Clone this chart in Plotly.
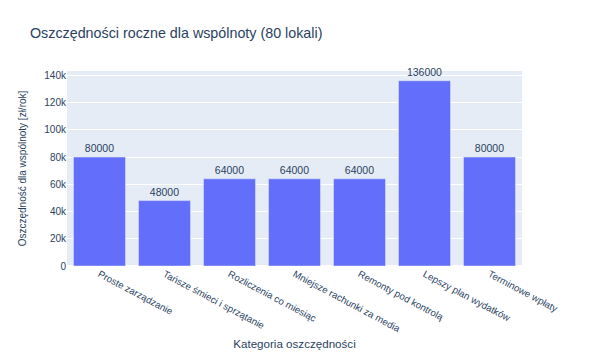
import plotly.graph_objects as go

categories = ["Proste zarządzanie", "Tańsze śmieci i sprzątanie", "Rozliczenia co miesiąc",
              "Mniejsze rachunki za media", "Remonty pod kontrolą", "Lepszy plan wydatków",
              "Terminowe wpłaty"]
savings = [80000, 48000, 64000, 64000, 64000, 136000, 80000]

fig = go.Figure(go.Bar(
    x=categories, y=savings, text=savings, textposition="outside",
    marker_color="#636efa", cliponaxis=False, textfont=dict(size=10.5),
))
fig.update_layout(
    width=590, height=356,
    margin=dict(l=67, r=68, t=71, b=90),
    title=dict(text="Oszczędności roczne dla wspólnoty (80 lokali)", x=30 / 590, xanchor="left",
               y=1 - 33 / 356, yref="container", yanchor="middle",
               font=dict(size=14.3)),
    font=dict(family="Arial, Liberation Sans, sans-serif", size=10, color="#2a3f5f"),
    xaxis=dict(title=dict(text="Kategoria oszczędności", font=dict(size=11.6), standoff=6),
               tickangle=28, tickfont=dict(size=9.7), automargin=False),
    yaxis=dict(title=dict(text="Oszczędność dla wspólnoty [zł/rok]", font=dict(size=10)),
               dtick=20000, tickfont=dict(size=10), automargin=False),
)
fig.write_html("out.html", config={"displayModeBar": False},
               post_script="document.body.style.margin='0';")
